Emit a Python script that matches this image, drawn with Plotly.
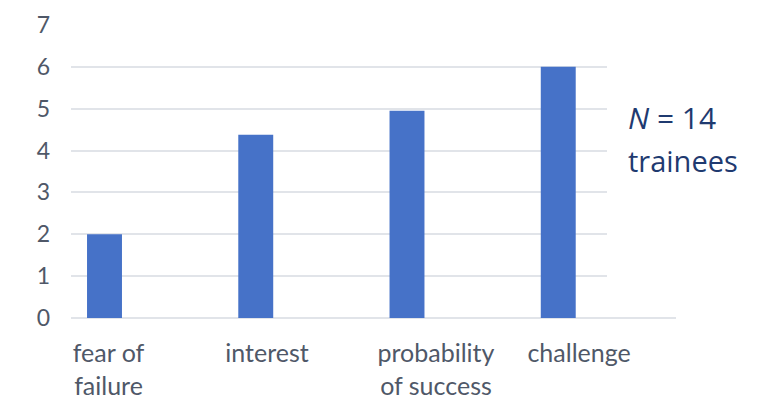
import plotly.graph_objects as go

categories = ["fear of<br>failure", "interest", "probability<br>of success", "challenge"]
values = [2.0, 4.38, 4.95, 6.0]
y_ticks = [0, 1, 2, 3, 4, 5, 6, 7]
note_line1 = "<i>N</i> = 14"
note_line2 = "trainees"

# style: horizontal placement of category labels relative to category index
label_shift = [-0.252, -0.204, -0.087, -0.141]

idx = list(range(len(categories)))

fig = go.Figure()
fig.add_trace(go.Bar(
    x=idx, y=values,
    width=0.231, offset=-0.394,
    marker=dict(color="#4672c8", line=dict(width=0)),
    hoverinfo="skip",
))

tick_font = dict(family="Lato", size=23, color="#4f5868")
cat_font = dict(family="Lato", size=25, color="#4f5868")

fig.update_layout(
    width=761, height=401,
    margin=dict(l=71, r=85, t=25, b=83),
    paper_bgcolor="white", plot_bgcolor="white",
    showlegend=False,
    xaxis=dict(
        range=[-0.5, 3.5], automargin=False,
        tickmode="array",
        tickvals=[i + s for i, s in zip(idx, label_shift)],
        ticktext=categories,
        showgrid=False, zeroline=False, showline=False,
        ticks="", tickfont=cat_font, ticklabelstandoff=18,
    ),
    yaxis=dict(
        range=[0, 7], automargin=False,
        tickmode="array", tickvals=y_ticks,
        showgrid=True, gridcolor="#e1e4e9", gridwidth=1.6,
        zeroline=True, zerolinecolor="#e1e4e9", zerolinewidth=1.6,
        showline=False, ticks="", tickfont=tick_font,
        ticklabelstandoff=20,
    ),
    shapes=[dict(
        type="rect", xref="paper", yref="paper",
        x0=0.886, x1=1.05, y0=0.06, y1=0.915,
        fillcolor="white", line=dict(width=0), layer="above",
    )],
    annotations=[
        dict(text=note_line1, xref="paper", yref="paper", x=0.917, y=0.686,
             xanchor="left", yanchor="middle", showarrow=False,
             font=dict(family="Open Sans", size=30, color="#1f3a70")),
        dict(text=note_line2, xref="paper", yref="paper", x=0.917, y=0.539,
             xanchor="left", yanchor="middle", showarrow=False,
             font=dict(family="Open Sans", size=29, color="#1f3a70")),
    ],
)

fig.write_html("out.html")
